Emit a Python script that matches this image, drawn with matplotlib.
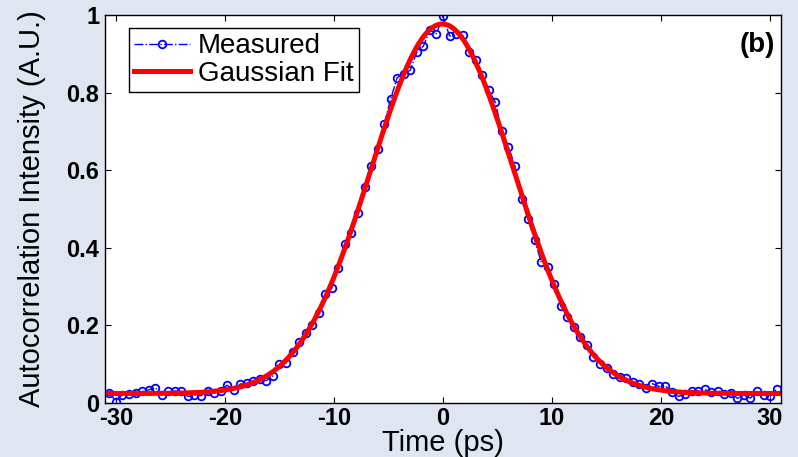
import numpy as np
import matplotlib
matplotlib.use("Agg")
import matplotlib.pyplot as plt

time_ps = [
    -30.6, -30.0, -29.4, -28.8, -28.2, -27.6, -27.0, -26.4, -25.8, -25.2,
    -24.6, -24.0, -23.4, -22.8, -22.2, -21.6, -21.0, -20.4, -19.8, -19.2,
    -18.6, -18.0, -17.4, -16.8, -16.2, -15.6, -15.0, -14.4, -13.8, -13.2,
    -12.6, -12.0, -11.4, -10.8, -10.2, -9.6, -9.0, -8.4, -7.8, -7.2,
    -6.6, -6.0, -5.4, -4.8, -4.2, -3.6, -3.0, -2.4, -1.8, -1.2,
    -0.6, 0.0, 0.6, 1.2, 1.8, 2.4, 3.0, 3.6, 4.2, 4.8,
    5.4, 6.0, 6.6, 7.2, 7.8, 8.4, 9.0, 9.6, 10.2, 10.8,
    11.4, 12.0, 12.6, 13.2, 13.8, 14.4, 15.0, 15.6, 16.2, 16.8,
    17.4, 18.0, 18.6, 19.2, 19.8, 20.4, 21.0, 21.6, 22.2, 22.8,
    23.4, 24.0, 24.6, 25.2, 25.8, 26.4, 27.0, 27.6, 28.2, 28.8,
    29.4, 30.0, 30.6,
]
intensity = [
    0.027, 0.004, 0.022, 0.023, 0.027, 0.030, 0.034, 0.040, 0.021, 0.030,
    0.031, 0.030, 0.017, 0.020, 0.019, 0.031, 0.026, 0.032, 0.046, 0.033,
    0.049, 0.051, 0.057, 0.062, 0.058, 0.070, 0.100, 0.103, 0.132, 0.158,
    0.180, 0.200, 0.232, 0.280, 0.296, 0.347, 0.410, 0.438, 0.490, 0.556,
    0.612, 0.655, 0.718, 0.784, 0.839, 0.848, 0.858, 0.905, 0.920, 0.961,
    0.952, 0.997, 0.946, 0.952, 0.948, 0.904, 0.885, 0.846, 0.808, 0.775,
    0.700, 0.660, 0.612, 0.525, 0.474, 0.420, 0.364, 0.352, 0.306, 0.250,
    0.222, 0.196, 0.170, 0.150, 0.120, 0.100, 0.090, 0.075, 0.068, 0.064,
    0.055, 0.049, 0.040, 0.050, 0.043, 0.044, 0.028, 0.017, 0.023, 0.032,
    0.031, 0.035, 0.028, 0.031, 0.024, 0.027, 0.012, 0.020, 0.013, 0.030,
    0.020, 0.017, 0.036,
]

x_ticks = [-30, -20, -10, 0, 10, 20, 30]
y_ticks = [0, 0.2, 0.4, 0.6, 0.8, 1.0]
y_tick_labels = ["0", "0.2", "0.4", "0.6", "0.8", "1"]


def gaussian(x, p):
    amp, mu, sig, off = p
    return off + amp * np.exp(-(x - mu) ** 2 / (2.0 * sig ** 2))


def fit_gaussian(x, y, n_iter=60):
    """
    简单的 Gauss-Newton 最小二乘高斯拟合
    """
    off0 = np.median(y[:10])
    p = np.array([y.max() - off0, x[np.argmax(y)], 6.0, off0], dtype=float)
    for _ in range(n_iter):
        amp, mu, sig, off = p
        e = np.exp(-(x - mu) ** 2 / (2.0 * sig ** 2))
        J = np.column_stack([
            e,
            amp * e * (x - mu) / sig ** 2,
            amp * e * (x - mu) ** 2 / sig ** 3,
            np.ones_like(x),
        ])
        r = y - gaussian(x, p)
        dp, *_ = np.linalg.lstsq(J, r, rcond=None)
        p = p + dp
        if np.max(np.abs(dp)) < 1e-10:
            break
    return p


def main():
    x = np.asarray(time_ps, dtype=float)
    y = np.asarray(intensity, dtype=float)
    p = fit_gaussian(x, y)

    x_fit = np.linspace(-31, 31, 600)
    y_fit = gaussian(x_fit, p)

    plt.rcParams["font.family"] = ["Liberation Sans", "DejaVu Sans"]
    plt.rcParams["axes.unicode_minus"] = False

    bg = "#DFE6F2"
    fig = plt.figure(figsize=(7.98, 4.57), dpi=100, facecolor=bg)
    ax = fig.add_axes([0.1316, 0.118, 0.8471, 0.849])

    ax.plot(x, y, linestyle="-.", color="blue", linewidth=1.0,
            marker="o", markersize=5.5, markerfacecolor="none",
            markeredgecolor="blue", markeredgewidth=1.3, label="Measured")
    ax.plot(x_fit, y_fit, color="red", linewidth=3.6, label="Gaussian Fit")

    ax.set_xlim(-31, 31)
    ax.set_ylim(0, 1)
    ax.set_xticks(x_ticks)
    ax.set_yticks(y_ticks)
    ax.set_yticklabels(y_tick_labels)

    ax.tick_params(direction="in", length=4, width=0.8, top=True, right=True,
                   labelsize=17, pad=4)
    ax.tick_params(axis="x", pad=2.5)
    for lab in ax.get_xticklabels() + ax.get_yticklabels():
        lab.set_fontweight("bold")
    for sp in ax.spines.values():
        sp.set_linewidth(1.0)

    ax.set_xlabel("Time (ps)", fontsize=21)
    ax.xaxis.set_label_coords(0.5, -0.068)
    ax.set_ylabel("Autocorrelation Intensity (A.U.)", fontsize=21)
    ax.yaxis.set_label_coords(-0.088, 0.5)

    ax.text(0.991, 0.923, "(b)", transform=ax.transAxes, ha="right", va="center",
            fontsize=20, fontweight="bold")

    leg = ax.legend(loc="upper left", bbox_to_anchor=(0.035, 0.967), fontsize=20,
                    fancybox=False, framealpha=1, edgecolor="black",
                    borderaxespad=0, handlelength=2.0, borderpad=0.2,
                    labelspacing=0.05, handletextpad=0.3)
    leg.get_frame().set_linewidth(1.0)

    fig.savefig("out.png", dpi=100, facecolor=bg)
    plt.close(fig)


if __name__ == "__main__":
    main()
